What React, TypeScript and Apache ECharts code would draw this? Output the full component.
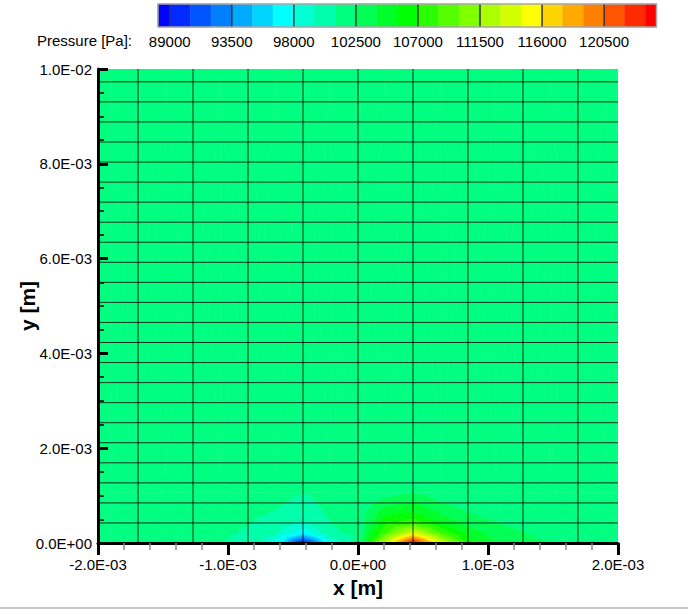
import React, { useEffect, useRef } from "react";
import * as echarts from "echarts";

// ---------- data ----------
const AMB = 101325;

// contour levels (Pa) and the colour of each band (band k lies between levels[k-1] and levels[k])
const levels = [
  89000, 90500, 92000, 93500, 95000, 96500, 98000, 99500, 101000, 102500, 104000, 105500,
  107000, 108500, 110000, 111500, 113000, 114500, 116000, 117500, 119000, 120500, 122000, 123500,
];
const bandColors = [
  "#0000ff", "#002aff", "#0055ff", "#0080ff", "#00aaff", "#00d4ff", "#00ffff", "#00ffd4",
  "#00ffaa", "#00ff80", "#00ff55", "#00ff2a", "#00ff00", "#2aff00", "#55ff00", "#80ff00",
  "#aaff00", "#d4ff00", "#ffff00", "#ffd400", "#ffaa00", "#ff8000", "#ff5500", "#ff2a00",
  "#ff0000",
];
const barTicks = [89000, 93500, 98000, 102500, 107000, 111500, 116000, 120500];
const barMin = 88150;
const barMax = 124300;

// node coordinates of the pressure field (m)
const xNodes = [
  -0.002, -0.0019035, -0.001692, -0.0014805, -0.001269, -0.0010575, -0.000846, -0.0006345,
  -0.000423, -0.0002115, 0, 0.0002115, 0.000423, 0.0006345, 0.000846, 0.0010575, 0.001269,
  0.0014805, 0.001692, 0.0019035, 0.002,
];
const yNodes = [0, 0.0002115, 0.000423, 0.0006345, 0.000846, 0.0010575, 0.001269, 0.01];

// pressure at nodes (Pa), one row per yNode
const A = AMB;
const pRow0 = [A, A, A, A, A, 101020, 100300, 98500, 88150, 98000, A, 113000, 124300, 114000, 106200, 104000, 103200, 102550, A, A, 100800];
const pRow1 = [A, A, A, A, A, A, 100800, 99700, 97000, 100800, A, 108500, 114000, 108500, 104800, 103300, 102600, 101600, A, A, A];
const pRow2 = [A, A, A, A, A, A, 101050, 100300, 99300, 100990, A, 106500, 108000, 105300, 103400, 102550, 101800, A, A, A, A];
const pRow3 = [A, A, A, A, A, A, A, 100900, 100200, 101250, A, 105000, 105600, 103900, 102480, 101800, A, A, A, A, A];
const pRow4 = [A, A, A, A, A, A, A, 101200, 100700, A, A, 103200, 104050, 102550, 101800, A, A, A, A, A, A];
const pRow5 = [A, A, A, A, A, A, A, A, 100990, A, A, 101800, 102550, 101700, A, A, A, A, A, A, A];
const pRow6 = [A, A, A, A, A, A, A, A, A, A, A, A, A, A, A, A, A, A, A, A, A];
const pRow7 = [A, A, A, A, A, A, A, A, A, A, A, A, A, A, A, A, A, A, A, A, A];
const pGrid = [pRow0, pRow1, pRow2, pRow3, pRow4, pRow5, pRow6, pRow7];

// mesh lines (m)
const meshX = [-0.001692, -0.001269, -0.000846, -0.000423, 0, 0.000423, 0.000846, 0.001269, 0.001692];
const meshY = [
  0.000423, 0.000846, 0.001269, 0.001692, 0.002115, 0.002538, 0.002961, 0.003384, 0.003807,
  0.00423, 0.004653, 0.005076, 0.005499, 0.005922, 0.006345, 0.006768, 0.007191, 0.007614,
  0.008037, 0.00846, 0.008883, 0.009306, 0.009729,
];

// ---------- helpers ----------
type Pt = { x: number; y: number; v: number };

function clipPoly(poly: Pt[], level: number, above: boolean): Pt[] {
  const out: Pt[] = [];
  const n = poly.length;
  for (let i = 0; i < n; i++) {
    const a = poly[i];
    const b = poly[(i + 1) % n];
    const ina = above ? a.v >= level : a.v <= level;
    const inb = above ? b.v >= level : b.v <= level;
    if (ina) out.push(a);
    if (ina !== inb) {
      const t = (level - a.v) / (b.v - a.v);
      out.push({ x: a.x + t * (b.x - a.x), y: a.y + t * (b.y - a.y), v: level });
    }
  }
  return out;
}

function expFmt(v: number): string {
  if (Math.abs(v) < 1e-12) return "0.0E+00";
  let e = Math.floor(Math.log10(Math.abs(v)) + 1e-9);
  let m = v / Math.pow(10, e);
  if (Math.abs(m) >= 9.95) {
    e += 1;
    m = v / Math.pow(10, e);
  }
  return m.toFixed(1) + "E" + (e < 0 ? "-" : "+") + String(Math.abs(e)).padStart(2, "0");
}

const FONT = "'Liberation Sans', Arial, Helvetica, sans-serif";
const FS = 15;

export default function App() {
  const ref = useRef<HTMLDivElement>(null);

  useEffect(() => {
    if (!ref.current) return;
    const chart = echarts.init(ref.current, null, { renderer: "svg" });

    const nCols = xNodes.length;
    const nRows = yNodes.length;
    const cells: number[][] = [];
    for (let r = 0; r < nRows - 1; r++) {
      for (let c = 0; c < nCols - 1; c++) {
        cells.push([xNodes[c], yNodes[r]]);
      }
    }

    const barBands: number[][] = [];
    for (let b = 0; b < bandColors.length; b++) {
      const lo = b === 0 ? barMin : levels[b - 1];
      const hi = b === levels.length ? barMax : levels[b];
      barBands.push([lo, hi, b]);
    }

    const option: any = {
      animation: false,
      textStyle: { fontFamily: FONT },
      grid: [
        { left: 98, top: 69, width: 520, height: 474, containLabel: false, outerBoundsMode: "none" },
        { left: 158, top: 4, width: 498.5, height: 23, containLabel: false, outerBoundsMode: "none" },
      ],
      xAxis: [
        {
          type: "value",
          gridIndex: 0,
          min: -0.002,
          max: 0.002,
          interval: 0.001,
          z: 10,
          name: "x [m]",
          nameLocation: "middle",
          nameGap: 34,
          nameMoveOverlap: false,
          nameTextStyle: { fontSize: 21, fontWeight: "bold", color: "#000", fontFamily: FONT },
          axisLine: { show: true, onZero: false, lineStyle: { color: "#000", width: 3 } },
          axisTick: { show: true, inside: false, length: 12, lineStyle: { color: "#000", width: 3 } },
          minorTick: { show: true, splitNumber: 5, length: 7, lineStyle: { color: "#8a8a8a", width: 1.5 } },
          axisLabel: { formatter: (v: number) => expFmt(v), color: "#000", fontSize: FS, margin: 14, fontFamily: FONT },
          splitLine: { show: false },
          minorSplitLine: { show: false },
        },
        {
          type: "value",
          gridIndex: 1,
          min: barMin,
          max: barMax,
          axisLine: { show: false },
          axisTick: { show: false },
          splitLine: { show: false },
          axisLabel: {
            show: true,
            customValues: barTicks,
            formatter: (v: number) => String(Math.round(v)),
            color: "#000",
            fontSize: FS,
            margin: 7,
            fontFamily: FONT,
          },
        },
      ],
      yAxis: [
        {
          type: "value",
          gridIndex: 0,
          min: 0,
          max: 0.01,
          interval: 0.002,
          z: 10,
          name: "y [m]",
          nameLocation: "middle",
          nameGap: 60,
          nameMoveOverlap: false,
          nameTextStyle: { fontSize: 21, fontWeight: "bold", color: "#000", fontFamily: FONT },
          axisLine: { show: true, onZero: false, lineStyle: { color: "#000", width: 3 } },
          axisTick: { show: true, inside: true, length: 10, lineStyle: { color: "#000", width: 3 } },
          minorTick: { show: true, splitNumber: 4, length: 6, lineStyle: { color: "#000", width: 1.5 } },
          axisLabel: { formatter: (v: number) => expFmt(v), color: "#000", fontSize: FS, margin: 6, fontFamily: FONT },
          splitLine: { show: false },
          minorSplitLine: { show: false },
        },
        {
          type: "value",
          gridIndex: 1,
          min: 0,
          max: 1,
          show: false,
        },
      ],
      series: [
        {
          type: "custom",
          name: "pressure",
          xAxisIndex: 0,
          yAxisIndex: 0,
          z: 1,
          clip: true,
          data: cells,
          renderItem: (params: any, api: any) => {
            const idx = params.dataIndex;
            const c = idx % (nCols - 1);
            const r = Math.floor(idx / (nCols - 1));
            const corners: Pt[] = [
              [c, r],
              [c + 1, r],
              [c + 1, r + 1],
              [c, r + 1],
            ].map(([ci, ri]) => {
              const p = api.coord([xNodes[ci], yNodes[ri]]);
              return { x: p[0], y: p[1], v: pGrid[ri][ci] };
            });
            const ctr: Pt = {
              x: (corners[0].x + corners[1].x + corners[2].x + corners[3].x) / 4,
              y: (corners[0].y + corners[1].y + corners[2].y + corners[3].y) / 4,
              v: (corners[0].v + corners[1].v + corners[2].v + corners[3].v) / 4,
            };
            const children: any[] = [];
            for (let k = 0; k < 4; k++) {
              const tri = [corners[k], corners[(k + 1) % 4], ctr];
              const vmin = Math.min(tri[0].v, tri[1].v, tri[2].v);
              const vmax = Math.max(tri[0].v, tri[1].v, tri[2].v);
              for (let b = 0; b < bandColors.length; b++) {
                const lo = b === 0 ? -Infinity : levels[b - 1];
                const hi = b === levels.length ? Infinity : levels[b];
                if (vmax < lo || vmin > hi) continue;
                let poly: Pt[] = tri;
                if (vmin < lo) poly = clipPoly(poly, lo, true);
                if (vmax > hi) poly = clipPoly(poly, hi, false);
                if (poly.length < 3) continue;
                children.push({
                  type: "polygon",
                  shape: { points: poly.map((p) => [p.x, p.y]) },
                  style: { fill: bandColors[b], stroke: bandColors[b], lineWidth: 0.6 },
                });
              }
            }
            return { type: "group", children };
          },
        },
        {
          type: "custom",
          name: "meshV",
          xAxisIndex: 0,
          yAxisIndex: 0,
          z: 3,
          data: meshX.map((x) => [x, 0]),
          renderItem: (params: any, api: any) => {
            const x = meshX[params.dataIndex];
            const p0 = api.coord([x, 0]);
            const p1 = api.coord([x, 0.01]);
            return {
              type: "line",
              shape: { x1: p0[0], y1: p0[1], x2: p1[0], y2: p1[1] },
              style: { stroke: "#000", lineWidth: 1, opacity: 0.8 },
            };
          },
        },
        {
          type: "custom",
          name: "meshH",
          xAxisIndex: 0,
          yAxisIndex: 0,
          z: 3,
          data: meshY.map((y) => [0, y]),
          renderItem: (params: any, api: any) => {
            const y = meshY[params.dataIndex];
            const p0 = api.coord([-0.002, y]);
            const p1 = api.coord([0.002, y]);
            return {
              type: "line",
              shape: { x1: p0[0], y1: p0[1], x2: p1[0], y2: p1[1] },
              style: { stroke: "#000", lineWidth: 1, opacity: 0.8 },
            };
          },
        },
        {
          type: "custom",
          name: "colorbar",
          xAxisIndex: 1,
          yAxisIndex: 1,
          z: 2,
          data: barBands,
          renderItem: (params: any, api: any) => {
            const [lo, hi, b] = barBands[params.dataIndex];
            const p0 = api.coord([lo, 0]);
            const p1 = api.coord([hi, 1]);
            return {
              type: "rect",
              shape: { x: p0[0], y: p1[1], width: p1[0] - p0[0], height: p0[1] - p1[1] },
              style: { fill: bandColors[b], stroke: bandColors[b], lineWidth: 0.5 },
            };
          },
        },
        {
          type: "custom",
          name: "colorbarSep",
          xAxisIndex: 1,
          yAxisIndex: 1,
          z: 3,
          data: barTicks.map((t) => [t, 0]),
          renderItem: (params: any, api: any) => {
            const t = barTicks[params.dataIndex];
            const p0 = api.coord([t, 0]);
            const p1 = api.coord([t, 1]);
            return {
              type: "line",
              shape: { x1: p0[0], y1: p0[1], x2: p1[0], y2: p1[1] },
              style: { stroke: "#333", lineWidth: 1.5 },
            };
          },
        },
        {
          type: "custom",
          name: "colorbarFrame",
          xAxisIndex: 1,
          yAxisIndex: 1,
          z: 4,
          data: [[barMin, 0]],
          renderItem: (params: any, api: any) => {
            const p0 = api.coord([barMin, 0]);
            const p1 = api.coord([barMax, 1]);
            return {
              type: "rect",
              shape: { x: p0[0], y: p1[1], width: p1[0] - p0[0], height: p0[1] - p1[1] },
              style: { fill: "none", stroke: "#a8a8a8", lineWidth: 1.5 },
            };
          },
        },
      ],
      graphic: [
        {
          type: "text",
          left: 37,
          top: 33,
          style: { text: "Pressure [Pa]:", fill: "#000", fontSize: FS, fontFamily: FONT },
        },
        {
          type: "line",
          shape: { x1: 0, y1: 608, x2: 688, y2: 608 },
          style: { stroke: "#c8c8c8", lineWidth: 2 },
        },
      ],
    };

    chart.setOption(option);
    return () => chart.dispose();
  }, []);

  return (
    <div
      ref={ref}
      style={{ position: "absolute", left: 0, top: 0, width: 688, height: 613, background: "#fff" }}
    />
  );
}
